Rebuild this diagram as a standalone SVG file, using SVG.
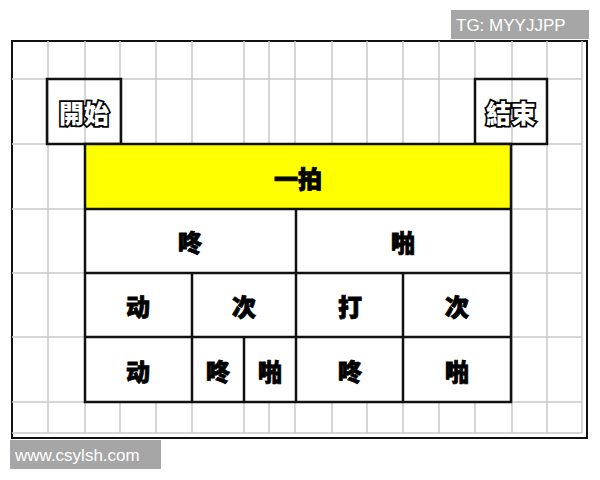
<svg xmlns="http://www.w3.org/2000/svg" width="600" height="480" viewBox="0 0 600 480">
<style>
.g{stroke:#c9c9c9;stroke-width:1.5;fill:none}
.b{stroke:#111;stroke-width:2.5;fill:none}
.t{font-family:"Noto Sans CJK SC","Noto Sans CJK TC",sans-serif;font-weight:900;font-size:24px;fill:#000;stroke:#000;stroke-width:0.8;text-anchor:middle;dominant-baseline:central}
.o{font-family:"Noto Sans CJK TC","Noto Sans CJK SC",sans-serif;font-weight:900;font-size:25px;fill:#fff;stroke:#000;stroke-width:3.5;paint-order:stroke;text-anchor:middle;dominant-baseline:central}
.w{font-family:"Liberation Sans",Arial,sans-serif;font-size:17px;fill:#fff;dominant-baseline:central}
</style>
<rect width="600" height="480" fill="#fff"/>
<g id="grid">
<rect x="12" y="41" width="575" height="397" fill="#fff" stroke="#111" stroke-width="2"/>
<path class="g" d="M48 41V433M85 41V433M120 41V433M156 41V433M192 41V433M244 41V433M269 41V433M295 41V433M332 41V433M367 41V433M403 41V433M439 41V433M475 41V433M512 41V433M547 41V433M582 41V433M12 79H582M12 144H582M12 209H582M12 273H582M12 337H582M12 402H582M12 433H582"/>
</g>
<g id="start">
<rect x="47" y="79" width="74" height="65" fill="#fff" class="b"/>
<text class="o" x="84" y="112">開始</text>
</g>
<g id="end">
<rect x="475" y="79" width="72" height="65" fill="#fff" class="b"/>
<text class="o" x="511" y="112">結束</text>
</g>
<g id="table">
<rect x="85" y="144" width="426" height="65" fill="#ffff00"/>
<rect x="85" y="209" width="426" height="193" fill="#fff"/>
<rect x="85" y="144" width="426" height="258" class="b"/>
<path class="b" d="M85 209H511M85 273H511M85 337H511M296 209V402M192 273V402M403 273V402M244 337V402"/>
</g>
<g id="labels">
<text class="t" x="298" y="177">一拍</text>
<text class="t" x="190" y="241">咚</text>
<text class="t" x="403" y="241">啪</text>
<text class="t" x="138" y="305">动</text>
<text class="t" x="244" y="305">次</text>
<text class="t" x="350" y="305">打</text>
<text class="t" x="457" y="305">次</text>
<text class="t" x="138" y="370">动</text>
<text class="t" x="218" y="370">咚</text>
<text class="t" x="270" y="370">啪</text>
<text class="t" x="350" y="370">咚</text>
<text class="t" x="457" y="370">啪</text>
</g>
<g id="watermarks">
<rect x="451" y="10" width="138" height="29" fill="#a6a6a6"/>
<text class="w" x="456" y="25">TG: MYYJJPP</text>
<rect x="10" y="440" width="151" height="29" fill="#a6a6a6"/>
<text class="w" x="15" y="455">www.csylsh.com</text>
</g>
</svg>
